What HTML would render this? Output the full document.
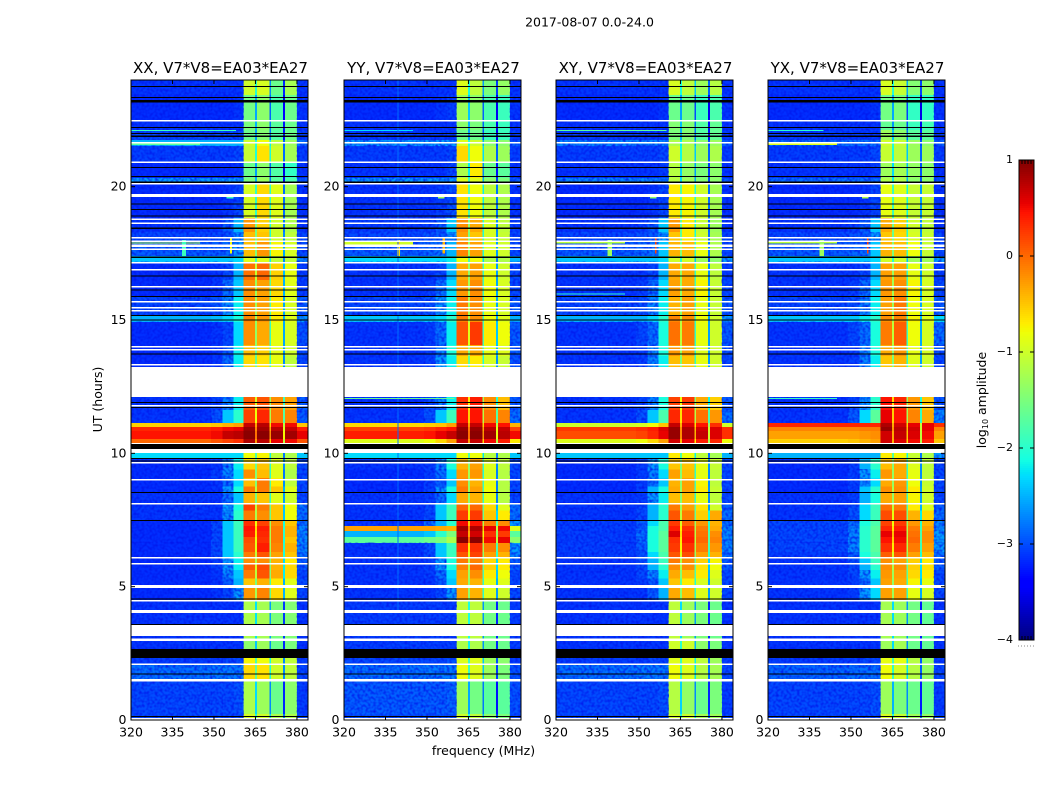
<!DOCTYPE html>
<html lang="en">
<head>
<meta charset="utf-8">
<title>2017-08-07 spectrograms</title>
<style>
html,body{margin:0;padding:0;background:#fff;}
body{width:1050px;height:800px;overflow:hidden;}
svg{display:block;}
text{font-family:"DejaVu Sans","Liberation Sans",sans-serif;fill:#000;}
</style>
</head>
<body>
<svg id="chart" xmlns="http://www.w3.org/2000/svg" width="1050" height="800" viewBox="0 0 1050 800">
  <defs>
    <filter id="grain" x="0" y="0" width="100%" height="100%" color-interpolation-filters="sRGB">
      <feTurbulence type="fractalNoise" baseFrequency="0.38" numOctaves="1" seed="7"/>
      <feColorMatrix type="matrix" values="0 0 0 0 0  0 0 0 0 0.08  0 0 0 0 0.92  2.0 0 0 0 -0.75"/>
    </filter>
  </defs>
  <rect x="0" y="0" width="1050" height="800" fill="#fff"/>
  <text x="589.5" y="26.5" font-size="12.5" text-anchor="middle">2017-08-07 0.0-24.0</text>
  <text x="102" y="399.5" font-size="12.5" text-anchor="middle" transform="rotate(-90 102 399.5)">UT (hours)</text>
  <text x="483.5" y="755" font-size="12.5" text-anchor="middle">frequency (MHz)</text>
  <text x="986" y="400" font-size="12.5" text-anchor="middle" transform="rotate(-90 986 400)">log<tspan font-size="8" dy="2">10</tspan><tspan dy="-2"> amplitude</tspan></text>
  <g id="panels"></g>
  <g id="colorbar"></g>
</svg>
<script>
/* ---------- data ---------- */
const panelTitles = ['XX, V7*V8=EA03*EA27','YY, V7*V8=EA03*EA27','XY, V7*V8=EA03*EA27','YX, V7*V8=EA03*EA27'];
const panelKeys = ['xx','yy','xy','yx'];
const freqTicks = [320,335,350,365,380];
const hourTicks = [0,5,10,15,20];
const colorbarTicks = [1,0,-1,-2,-3,-4];
const colorbarTickLabels = ['1','0','\u22121','\u22122','\u22123','\u22124'];

/* row boundaries in UT hours, top to bottom */
const rowEdges = [24,23.44,22.5,22.13,21.75,21.53,20.93,20.33,20.1,18.83,18.3,17.93,17.4,17.18,16.5,15.9,15.15,14.93,14.06,13.65,13.24,12.11,11.63,11.14,10.99,10.84,10.54,10.39,10.01,9.82,9.4,9.07,8.75,8.55,8.14,7.85,7.5,7.28,7.09,6.86,6.64,6.3,6.11,5.85,5.62,5.3,5.03,4.5,3.07,2.6,2.06,1.5,0.22,0];

/* frequency columns in MHz */
const bandFreqs = [[320,349],[349,353],[353,357],[357,360.7],[360.7,365],[365.6,370],[370.7,375],[375.7,380],[380,384]];
const gapFreqs = [[364.9,365.6],[370,370.7],[375,375.7]];
const gapDepths = [1.0,1.1,1.6];

/* log10 amplitude, one row per rowEdges interval: bg,s0,s1,s2,b1,b2,b3,b4,right */
const xxLevels = [
[-3.1,-3.1,-3.1,-3.1,-1.0,-0.95,-1.6,-1.25,-3.1],
[-3.15,-3.15,-3.15,-3.1,-1.55,-1.4,-1.8,-1.6,-3.1],
[-3.1,-3.1,-3.1,-3.1,-1.5,-1.4,-1.7,-1.6,-3.1],
[-3.0,-3.0,-3.0,-3.0,-1.6,-1.45,-1.75,-1.6,-3.05],
[-2.5,-2.5,-2.5,-2.5,-1.0,-0.8,-1.1,-1.3,-2.8],
[-3.05,-3.05,-3.05,-3.0,-1.05,-0.65,-1.0,-1.25,-3.05],
[-3.15,-3.15,-3.15,-3.1,-1.6,-1.4,-1.75,-1.95,-3.1],
[-2.6,-2.6,-2.6,-2.6,-1.5,-1.3,-1.7,-1.8,-2.9],
[-3.15,-3.15,-3.1,-3.0,-0.95,-0.6,-0.9,-1.25,-3.1],
[-3.1,-3.1,-2.9,-2.5,-0.25,-0.55,-1.0,-1.2,-3.1],
[-3.0,-3.0,-2.95,-2.7,-0.45,-0.5,-1.0,-1.1,-3.0],
[-2.9,-2.9,-2.85,-2.6,-0.45,-0.25,-0.75,-0.95,-3.0],
[-2.4,-2.4,-2.4,-2.3,-0.9,-0.9,-1.1,-1.1,-2.6],
[-3.15,-3.1,-3.0,-2.5,-0.05,0,-0.55,-0.85,-3.05],
[-3.15,-3.1,-2.8,-2.4,-0.2,-0.3,-0.6,-0.9,-3.05],
[-3.0,-2.95,-2.65,-2.2,-0.2,-0.3,-0.7,-0.95,-2.9],
[-2.5,-2.45,-2.3,-2.1,-0.15,-0.25,-0.7,-0.9,-2.6],
[-3.15,-3.1,-3.0,-2.3,-0.2,-0.35,-0.85,-0.95,-2.95],
[-3.15,-3.1,-2.9,-2.2,-0.45,-0.55,-0.85,-1.0,-3.0],
[-3.15,-3.1,-2.8,-2.2,-0.6,-0.65,-0.85,-1.1,-3.0],
null,
[-3.1,-3.0,-2.7,-2.2,0.05,0.1,-0.2,-0.3,-2.9],
[-3.1,-2.95,-2.4,-2.0,0.2,0.35,-0.1,-0.15,-2.9],
[-0.55,-0.5,-0.4,-0.3,0.7,0.75,0.5,0.5,-0.5],
[0.35,0.4,0.5,0.55,0.9,0.85,0.75,0.7,0.4],
[0.45,0.5,0.7,0.75,0.95,0.95,0.9,0.85,0.55],
[0,0.1,0.2,0.3,0.8,0.75,0.55,0.5,0.1],
null,
[-2.3,-2.3,-2.3,-2.3,-0.8,-0.75,-1.1,-1.2,-2.4],
[-3.15,-3.1,-2.7,-2.2,-0.6,-0.5,-0.9,-1.1,-3.0],
[-3.15,-3.05,-2.7,-2.3,-0.2,-0.45,-0.9,-1.2,-3.0],
[-3.15,-3.1,-2.8,-2.3,-0.45,-0.1,-0.7,-1.1,-3.0],
[-3.15,-3.1,-2.6,-2.1,-0.1,-0.1,-0.5,-0.9,-3.0],
[-3.1,-3.1,-2.8,-2.4,-0.4,-0.5,-0.9,-1.0,-3.0],
[-3.1,-3.1,-2.6,-2.1,0.2,-0.1,-0.5,-0.8,-2.8],
[-3.1,-3.1,-2.6,-2.0,-0.1,-0.2,-0.5,-0.8,-2.8],
[-3.15,-3.0,-2.4,-1.9,0.3,0.2,-0.2,-0.5,-2.8],
[-3.15,-3.0,-2.4,-1.9,0.45,0.4,-0.1,-0.4,-2.7],
[-3.15,-3.0,-2.4,-1.9,0.4,0.35,-0.1,-0.4,-2.7],
[-3.15,-3.0,-2.4,-1.9,0.15,0.3,-0.1,-0.5,-2.7],
[-3.15,-3.0,-2.4,-1.9,0.1,0.4,-0.15,-0.4,-2.7],
[-3.15,-3.0,-2.4,-2.0,-0.1,0.1,-0.3,-0.5,-2.8],
[-3.15,-3.05,-2.6,-2.2,-0.2,-0.2,-0.4,-0.7,-2.9],
[-3.15,-3.05,-2.6,-2.2,0.05,0.15,-0.4,-0.6,-2.9],
[-3.15,-3.1,-2.7,-2.4,-0.1,0.1,-0.35,-0.6,-3.0],
[-3.15,-3.1,-2.9,-2.5,-0.5,-0.4,-0.7,-0.9,-3.0],
[-3.15,-3.1,-3.0,-2.6,-0.25,-0.15,-0.6,-0.9,-3.0],
[-3.1,-3.1,-3.1,-3.1,-1.2,-1.25,-1.5,-1.45,-3.1],
[-3.1,-3.1,-3.1,-3.1,-1.4,-1.3,-1.6,-1.5,-3.1],
[-3.05,-3.05,-3.0,-3.0,-0.75,-0.8,-1.0,-1.1,-3.05],
[-2.8,-2.75,-2.75,-2.75,-0.6,-0.65,-1.0,-1.1,-3.0],
[-3.0,-3.0,-3.0,-2.95,-1.2,-1.3,-1.6,-1.4,-3.05],
[-3.0,-3.0,-3.0,-3.0,-0.95,-1.0,-1.2,-1.2,-3.0]
];
const yyLevels = [
[-3.1,-3.1,-3.1,-3.1,-0.9,-1.1,-1.5,-1.35,-3.1],
[-3.15,-3.15,-3.1,-3.05,-1.3,-1.4,-1.8,-1.9,-3.1],
[-3.1,-3.1,-3.1,-3.1,-1.4,-1.5,-1.8,-1.9,-3.1],
[-3.05,-3.05,-3.05,-3.05,-1.6,-1.6,-1.9,-1.9,-3.05],
[-2.6,-2.6,-2.6,-2.6,-0.9,-1.0,-1.4,-1.4,-2.9],
[-3.05,-3.05,-3.05,-3.0,-0.6,-0.8,-1.2,-1.3,-3.05],
[-3.1,-3.1,-3.1,-3.0,-1.2,-0.7,-1.6,-1.7,-3.1],
[-2.6,-2.6,-2.6,-2.6,-0.9,-0.9,-1.4,-1.5,-2.9],
[-3.1,-3.1,-3.05,-2.95,-0.65,-0.8,-1.1,-1.2,-3.1],
[-3.05,-3.05,-2.9,-2.4,-0.2,-0.35,-0.95,-1.1,-3.05],
[-3.0,-2.95,-2.9,-2.6,-0.3,-0.5,-0.95,-1.05,-3.0],
[-2.9,-2.85,-2.8,-2.5,-0.15,-0.3,-0.9,-1.0,-3.0],
[-2.3,-2.3,-2.3,-2.2,-0.8,-0.8,-1.2,-1.2,-2.5],
[-3.1,-3.1,-3.0,-2.5,-0.35,-0.3,-0.85,-1.0,-3.0],
[-3.1,-3.05,-2.8,-2.3,-0.25,-0.2,-0.8,-0.95,-3.0],
[-3.0,-2.95,-2.6,-2.2,-0.1,-0.2,-0.85,-0.95,-2.9],
[-2.4,-2.4,-2.3,-2.0,-0.1,-0.2,-0.8,-0.9,-2.5],
[-3.1,-3.05,-2.8,-2.2,0.1,0.25,-0.7,-0.8,-2.9],
[-3.1,-3.05,-2.7,-2.1,-0.35,-0.35,-0.85,-0.9,-2.9],
[-3.1,-3.05,-2.6,-2.2,-0.6,-0.7,-0.95,-1.05,-2.95],
null,
[-3.1,-3.0,-2.7,-2.2,0.3,0.4,-0.2,-0.45,-2.9],
[-3.1,-2.95,-2.4,-1.9,0.45,0.45,-0.05,-0.15,-2.8],
[-0.6,-0.55,-0.5,-0.3,0.7,0.7,0.5,0.45,-0.4],
[0.2,0.25,0.35,0.45,0.9,0.9,0.75,0.7,0.2],
[0.4,0.45,0.55,0.7,0.95,0.95,0.85,0.75,0.5],
[-0.9,-0.8,-0.6,-0.3,0.7,0.7,0.5,0.4,-0.7],
null,
[-2.3,-2.3,-2.3,-2.3,-0.8,-0.8,-1.15,-1.2,-2.4],
[-3.1,-3.05,-2.7,-2.1,-0.4,-0.3,-0.9,-1.1,-3.0],
[-3.15,-3.05,-2.8,-2.3,-0.25,-0.25,-0.95,-1.15,-3.0],
[-3.15,-3.05,-2.9,-2.4,-0.2,-0.4,-0.85,-1.15,-3.0],
[-3.15,-3.05,-2.6,-2.1,-0.1,-0.3,-0.8,-1.15,-3.0],
[-3.1,-3.05,-2.8,-2.3,-0.35,-0.4,-0.85,-1.15,-3.0],
[-3.1,-3.0,-2.4,-1.9,0,0,-0.6,-0.9,-2.8],
[-3.1,-3.0,-2.4,-1.9,0.25,0.25,-0.5,-0.7,-2.8],
[-3.1,-2.8,-2.5,-2.0,0.5,0.45,-0.1,-0.2,-2.6],
[-0.3,-0.3,-0.35,-0.4,0.85,0.8,0.55,0.5,-0.9],
[-2.5,-2.4,-2.0,-1.5,0.7,0.65,0.3,0.25,-1.7],
[-1.7,-1.6,-1.5,-1.2,0.95,0.95,0.5,0.55,-1.4],
[-3.1,-3.0,-2.4,-1.9,0.3,0.3,-0.1,-0.2,-2.6],
[-3.1,-3.0,-2.4,-1.9,0.1,0.2,-0.3,-0.4,-2.7],
[-3.1,-3.05,-2.6,-2.1,-0.1,-0.15,-0.6,-0.7,-2.9],
[-3.1,-3.05,-2.6,-2.1,-0.15,0,-0.55,-0.7,-2.9],
[-3.1,-3.05,-2.8,-2.3,-0.3,-0.2,-0.7,-0.8,-3.0],
[-3.1,-3.1,-2.9,-2.4,-0.35,-0.4,-0.85,-0.9,-3.0],
[-3.1,-3.1,-3.0,-2.6,-0.3,-0.4,-0.9,-1.0,-3.0],
[-3.05,-3.05,-3.05,-3.05,-1.1,-1.1,-1.55,-1.6,-3.05],
[-3.05,-3.05,-3.05,-3.05,-1.2,-1.2,-1.55,-1.6,-3.05],
[-3.0,-3.0,-3.0,-2.95,-0.9,-0.9,-1.3,-1.4,-3.05],
[-2.8,-2.75,-2.75,-2.75,-0.8,-0.9,-1.3,-1.5,-2.95],
[-2.9,-2.9,-2.9,-2.85,-1.3,-1.55,-1.7,-1.7,-2.95],
[-2.95,-2.95,-2.95,-2.95,-1.0,-1.1,-1.4,-1.5,-3.0]
];
const xyLevels = [
[-3.1,-3.1,-3.1,-3.1,-0.95,-1.1,-1.3,-1.15,-3.1],
[-3.15,-3.15,-3.15,-3.1,-1.6,-1.6,-1.9,-1.8,-3.1],
[-3.1,-3.1,-3.1,-3.1,-1.45,-1.45,-1.75,-1.65,-3.1],
[-3.05,-3.05,-3.05,-3.05,-1.5,-1.45,-1.75,-1.65,-3.05],
[-2.7,-2.7,-2.7,-2.7,-1.2,-1.2,-1.4,-1.3,-2.9],
[-3.05,-3.05,-3.05,-3.0,-1.0,-1.15,-1.3,-1.2,-3.05],
[-3.1,-3.1,-3.1,-3.05,-1.15,-1.35,-1.5,-1.4,-3.1],
[-2.7,-2.7,-2.7,-2.7,-1.15,-1.3,-1.45,-1.4,-2.9],
[-3.15,-3.15,-3.1,-3.0,-0.7,-0.75,-1.0,-1.25,-3.1],
[-3.1,-3.05,-2.9,-2.4,-0.25,-0.7,-1.05,-1.3,-3.1],
[-3.0,-2.95,-2.9,-2.6,-0.5,-0.7,-1.0,-1.25,-3.0],
[-2.9,-2.85,-2.8,-2.4,-0.4,-0.45,-0.85,-1.2,-3.0],
[-2.4,-2.4,-2.4,-2.3,-1.0,-1.0,-1.3,-1.4,-2.6],
[-3.1,-3.1,-3.0,-2.5,-0.35,-0.35,-0.85,-1.1,-3.05],
[-3.1,-3.05,-2.8,-2.3,-0.3,-0.35,-0.75,-1.05,-3.0],
[-3.0,-2.95,-2.7,-2.2,-0.4,-0.3,-0.85,-1.05,-2.9],
[-2.5,-2.5,-2.3,-2.0,-0.15,-0.2,-0.8,-1.0,-2.6],
[-3.1,-3.0,-2.8,-2.1,-0.05,-0.1,-0.85,-1.0,-2.9],
[-3.1,-3.05,-2.7,-2.1,-0.25,-0.3,-0.9,-1.0,-2.95],
[-3.1,-3.05,-2.7,-2.2,-0.45,-0.5,-0.85,-1.0,-3.0],
null,
[-3.1,-3.0,-2.7,-2.1,0.2,0.25,-0.35,-0.55,-2.9],
[-3.1,-2.95,-2.4,-1.8,0.35,0.35,-0.05,-0.25,-2.8],
[-1.0,-0.95,-0.8,-0.5,0.7,0.6,0.45,0.3,-1.0],
[0.25,0.3,0.4,0.6,0.9,0.8,0.65,0.6,0.3],
[0.15,0.2,0.35,0.55,0.9,0.8,0.7,0.6,0.3],
[-0.9,-0.8,-0.6,-0.3,0.65,0.55,0.4,0.35,-0.8],
null,
[-2.4,-2.4,-2.4,-2.4,-0.7,-0.8,-1.1,-1.25,-2.5],
[-3.15,-3.05,-2.6,-2.1,-0.5,-0.5,-0.85,-1.05,-3.0],
[-3.15,-3.05,-2.7,-2.3,-0.3,-0.45,-0.85,-1.1,-3.0],
[-3.15,-3.05,-2.8,-2.4,-0.4,-0.3,-0.75,-1.1,-3.0],
[-3.15,-3.05,-2.5,-2.1,-0.35,-0.3,-0.7,-1.05,-3.0],
[-3.1,-3.05,-2.6,-2.2,-0.45,-0.45,-0.85,-1.1,-3.0],
[-3.1,-3.0,-2.5,-2.0,-0.1,-0.3,-0.65,-1.0,-2.9],
[-3.1,-3.0,-2.5,-2.0,0.1,-0.1,-0.55,-0.35,-2.8],
[-3.05,-2.9,-2.3,-1.8,0.25,0.05,-0.25,-0.4,-2.8],
[-3.05,-2.9,-2.1,-1.8,0.4,0.3,-0.1,-0.35,-2.7],
[-3.05,-2.8,-2.1,-1.7,0.6,0.4,-0.05,-0.2,-2.7],
[-3.05,-2.8,-2.1,-1.7,0.3,0.45,0,-0.15,-2.7],
[-3.05,-2.9,-2.1,-1.7,0.25,0.3,-0.1,-0.25,-2.7],
[-3.05,-2.95,-2.3,-1.8,0.1,0.15,-0.3,-0.4,-2.8],
[-3.1,-2.95,-2.5,-1.9,-0.1,-0.2,-0.55,-0.75,-2.9],
[-3.1,-3.0,-2.5,-2.0,-0.2,-0.2,-0.65,-0.8,-2.9],
[-3.1,-3.0,-2.7,-2.2,-0.35,-0.45,-0.7,-0.9,-3.0],
[-3.1,-3.05,-2.9,-2.4,-0.5,-0.7,-0.95,-1.0,-3.0],
[-3.1,-3.1,-2.9,-2.5,-0.35,-0.45,-0.9,-1.0,-3.0],
[-3.1,-3.1,-3.1,-3.1,-1.1,-1.3,-1.5,-1.6,-3.1],
[-3.1,-3.1,-3.1,-3.1,-1.0,-1.0,-1.4,-1.5,-3.1],
[-3.05,-3.05,-3.0,-3.0,-0.9,-0.9,-1.1,-1.3,-3.05],
[-2.8,-2.75,-2.75,-2.75,-0.8,-0.9,-1.15,-1.25,-3.0],
[-3.0,-3.0,-3.0,-2.95,-1.15,-1.35,-1.6,-1.5,-3.05],
[-3.0,-3.0,-3.0,-3.0,-1.0,-1.0,-1.25,-1.3,-3.0]
];
const yxLevels = [
[-3.1,-3.1,-3.1,-3.1,-0.95,-1.05,-1.45,-1.4,-3.1],
[-3.15,-3.15,-3.15,-3.1,-1.55,-1.5,-1.95,-1.95,-3.1],
[-3.1,-3.1,-3.1,-3.1,-1.65,-1.6,-1.9,-1.85,-3.1],
[-3.05,-3.05,-3.05,-3.05,-1.3,-1.4,-1.7,-1.7,-3.05],
[-2.8,-2.8,-2.8,-2.8,-1.0,-1.05,-1.3,-1.4,-2.9],
[-3.05,-3.05,-3.05,-3.0,-1.05,-1.1,-1.3,-1.3,-3.05],
[-3.1,-3.1,-3.1,-3.05,-1.3,-1.25,-1.35,-1.4,-3.1],
[-2.8,-2.8,-2.8,-2.8,-1.2,-1.2,-1.4,-1.4,-2.95],
[-3.15,-3.15,-3.1,-3.0,-0.85,-0.9,-1.05,-1.05,-3.1],
[-3.1,-3.05,-2.9,-2.4,-0.35,-0.55,-1.0,-1.1,-3.1],
[-3.0,-2.95,-2.9,-2.6,-0.5,-0.6,-0.95,-1.05,-3.0],
[-2.9,-2.85,-2.8,-2.4,-0.4,-0.45,-0.8,-1.05,-3.0],
[-2.4,-2.4,-2.4,-2.3,-1.0,-1.0,-1.3,-1.3,-2.6],
[-3.1,-3.1,-3.0,-2.5,-0.3,-0.3,-0.85,-1.0,-3.05],
[-3.1,-3.05,-2.8,-2.3,-0.25,-0.2,-0.75,-0.95,-3.0],
[-3.0,-2.95,-2.7,-2.2,-0.3,-0.1,-0.8,-0.95,-2.9],
[-2.4,-2.4,-2.2,-2.0,-0.2,-0.15,-0.75,-0.9,-2.3],
[-3.1,-3.0,-2.8,-2.1,-0.1,0.05,-0.8,-0.95,-2.8],
[-3.1,-3.05,-2.7,-2.1,-0.35,-0.25,-0.85,-0.95,-2.95],
[-3.1,-3.05,-2.7,-2.2,-0.5,-0.4,-0.9,-1.0,-3.0],
null,
[-3.1,-3.0,-2.6,-2.0,0.45,0.35,-0.25,-0.5,-2.9],
[-3.1,-2.9,-2.3,-1.7,0.55,0.45,-0.15,-0.35,-2.7],
[0.35,0.35,0.35,0.35,0.8,0.65,0.55,0.55,0.3],
[-0.15,-0.15,-0.1,-0.1,0.9,0.75,0.65,0.55,-0.15],
[-0.3,-0.3,-0.25,-0.2,0.65,0.7,0.6,0.5,-0.3],
[-0.55,-0.5,-0.4,-0.3,0.65,0.6,0.5,0.4,-0.5],
null,
[-2.5,-2.5,-2.5,-2.5,-0.7,-0.75,-1.05,-1.2,-2.6],
[-3.15,-3.05,-2.5,-2.0,-0.45,-0.35,-0.9,-1.1,-3.0],
[-3.15,-3.05,-2.6,-2.2,-0.25,-0.35,-0.85,-1.1,-3.0],
[-3.15,-3.05,-2.7,-2.3,-0.35,-0.25,-0.8,-1.05,-3.0],
[-3.15,-3.05,-2.4,-2.0,-0.2,-0.2,-0.7,-1.0,-3.0],
[-3.1,-3.05,-2.5,-2.1,-0.35,-0.3,-0.75,-1.0,-3.0],
[-3.1,-2.95,-2.3,-1.9,-0.05,-0.1,-0.7,-0.9,-2.9],
[-3.1,-2.95,-2.3,-1.9,0.15,0.15,-0.4,-0.6,-2.8],
[-3.0,-2.8,-2.1,-1.8,0.2,0.25,-0.25,-0.4,-2.7],
[-3.0,-2.7,-2.0,-1.7,0.35,0.4,-0.1,-0.3,-2.6],
[-3.0,-2.7,-2.0,-1.7,0.55,0.55,-0.05,-0.2,-2.6],
[-3.0,-2.7,-2.0,-1.7,0.45,0.5,0,-0.2,-2.6],
[-3.0,-2.7,-2.0,-1.7,0.3,0.35,-0.1,-0.3,-2.6],
[-3.05,-2.85,-2.1,-1.8,0.05,0.1,-0.3,-0.45,-2.8],
[-3.1,-2.95,-2.4,-1.9,-0.2,-0.3,-0.55,-0.7,-2.9],
[-3.1,-3.0,-2.5,-2.0,-0.2,-0.2,-0.55,-0.65,-2.9],
[-3.1,-3.0,-2.6,-2.2,-0.25,-0.3,-0.6,-0.7,-3.0],
[-3.1,-3.05,-2.8,-2.4,-0.3,-0.35,-0.75,-0.85,-3.0],
[-3.1,-3.05,-2.6,-2.3,-0.3,-0.3,-0.85,-0.95,-3.0],
[-3.1,-3.1,-3.1,-3.1,-1.25,-1.3,-1.55,-1.65,-3.1],
[-3.1,-3.1,-3.1,-3.1,-1.3,-1.25,-1.6,-1.65,-3.1],
[-3.05,-3.05,-3.0,-3.0,-0.85,-0.85,-1.15,-1.35,-3.05],
[-2.85,-2.8,-2.8,-2.8,-0.8,-0.95,-1.15,-1.35,-3.0],
[-3.0,-3.0,-3.0,-2.95,-1.3,-1.5,-1.6,-1.65,-3.05],
[-3.0,-3.0,-3.0,-3.0,-0.95,-1.05,-1.3,-1.35,-3.0]
];

/* narrow interference features: fStart,fEnd,hourTop,hourBottom,level */
const xxRfi = [[320,345,21.62,21.57,-1.7],[320,358,22.13,22.09,-1.9],[320,345,17.9,17.86,-1.1],[338.4,339.8,18,17.4,-1.9],[355.8,356.5,18.05,17.5,-0.8],[354.5,357,19.7,19.55,-1.9]];
const yyRfi = [[320,345,22.13,22.09,-2.3],[320,345,17.92,17.84,-1.0],[339.2,340.2,18,17.4,-0.6],[355.7,356.5,18.05,17.5,-0.4],[354,356.4,19.7,19.55,-1.3],[339.4,339.7,24,4,-2.85],[320,360,12.08,12.03,-1.6]];
const xyRfi = [[320,360,22.13,22.09,-1.7],[320,345,17.92,17.87,-1.1],[338.7,340.2,18,17.4,-1.3],[355.8,356.3,18.05,17.5,0.2],[354,356.4,19.7,19.55,-1.4],[320,345,16.0,15.96,-2.0]];
const yxRfi = [[320,345,21.62,21.57,-0.9],[320,340,22.13,22.09,-2.0],[320,345,17.92,17.87,-1.1],[338.7,340.2,18,17.4,-1.3],[355.8,356.3,18.05,17.5,0.2],[354,356.4,19.7,19.55,-1.2],[320,345,12.08,12.03,-1.9]];

/* flagged time ranges in UT hours: top,bottom */
const whiteFlags = [[22.5,22.44],[21.68,21.62],[20.94,20.89],[20.14,20.08],[19.73,19.61],[18.8,18.75],[18.66,18.6],[18.11,18.06],[17.98,17.93],[17.83,17.74],[17.68,17.63],[17.175,17.12],[16.91,16.86],[16.28,16.22],[15.71,15.66],[15.49,15.43],[15.38,15.32],[14.03,13.97],[13.91,13.86],[13.35,13.29],[13.24,12.11],[11.81,11.76],[10.16,10.01],[9.68,9.62],[9.04,8.98],[8.14,8.08],[6.11,6.06],[5.89,5.83],[5.06,4.95],[4.5,4.44],[4.13,4.01],[3.58,3.15],[3.06,2.96],[2.12,2.06],[1.54,1.44],[0.075,0.02]];
const blackFlags = [[23.78,23.74],[23.36,23.33],[23.25,23.16],[22.24,22.2],[22.01,21.98],[21.92,21.86],[20.74,20.7],[20.4,20.36],[20.2,20.14],[19.37,19.33],[19.16,19.13],[18.92,18.88],[18.47,18.41],[17.38,17.33],[16.67,16.63],[16.14,16.11],[15.9,15.86],[15.19,15.15],[15.02,14.98],[13.74,13.71],[11.93,11.89],[11.74,11.7],[10.35,10.16],[9.83,9.79],[9.73,9.69],[8.55,8.51],[7.5,7.46],[4.56,4.52],[3.6,3.56],[2.66,2.33],[1.74,1.71],[0.15,0.12]];

/* ---------- layout and scales ---------- */
const panelLeft = [131,344,556,768];
const panelWidth = 177;
const plotTop = 80, plotBottom = 720;
const freqMin = 320, freqMax = 384, hourMin = 0, hourMax = 24;
const cbLeft = 1019, cbRight = 1034, cbTop = 160, cbBottom = 640, levelMin = -4, levelMax = 1;
const speckleCeiling = -2.5;
const SVGNS = 'http://www.w3.org/2000/svg';
const levelSets = {xx:xxLevels, yy:yyLevels, xy:xyLevels, yx:yxLevels};
const rfiSets = {xx:xxRfi, yy:yyRfi, xy:xyRfi, yx:yxRfi};

function xScale(panel, f){ return panelLeft[panel] + (f - freqMin) / (freqMax - freqMin) * panelWidth; }
function yScale(h){ return plotBottom - (h - hourMin) / (hourMax - hourMin) * (plotBottom - plotTop); }
function levelScale(v){ return cbBottom - (v - levelMin) / (levelMax - levelMin) * (cbBottom - cbTop); }

function ramp(pts, t){
  for (let i = 1; i < pts.length; i++) {
    if (t <= pts[i][0]) {
      const a = pts[i-1], b = pts[i];
      return a[1] + (b[1] - a[1]) * (t - a[0]) / (b[0] - a[0]);
    }
  }
  return pts[pts.length-1][1];
}
const jetR = [[0,0],[0.35,0],[0.66,1],[0.89,1],[1,0.5]];
const jetG = [[0,0],[0.125,0],[0.375,1],[0.64,1],[0.91,0],[1,0]];
const jetB = [[0,0.5],[0.11,1],[0.34,1],[0.65,0],[1,0]];
function jet(v){
  const t = Math.max(0, Math.min(1, (v - levelMin) / (levelMax - levelMin)));
  const c = [jetR, jetG, jetB].map(p => Math.round(ramp(p, t) * 255));
  return 'rgb(' + c.join(',') + ')';
}
function make(tag, attrs, parent){
  const el = document.createElementNS(SVGNS, tag);
  for (const k in attrs) el.setAttribute(k, attrs[k]);
  parent.appendChild(el);
  return el;
}
function cell(parent, panel, f0, f1, h0, h1, v){
  const x0 = xScale(panel, f0), x1 = xScale(panel, f1), y0 = yScale(h0), y1 = yScale(h1);
  const el = make('rect', {x:x0, y:y0, width:x1-x0, height:y1-y0, fill:jet(v)}, parent);
  
  
}
function flag(parent, panel, h0, h1, color){
  const y0 = yScale(h0), y1 = yScale(h1);
  const el = make('rect', {x:panelLeft[panel], y:y0, width:panelWidth, height:y1-y0, fill:color}, parent);
  
  
}
function speckle(parent, panel, f0, f1, h0, h1){
  const x0 = xScale(panel, f0), x1 = xScale(panel, f1), y0 = yScale(h0), y1 = yScale(h1);
  const el = make('rect', {x:x0, y:y0, width:x1-x0, height:y1-y0, filter:'url(#grain)'}, parent);
  
  
}

/* ---------- panels ---------- */
const root = document.getElementById('panels');
panelKeys.forEach(function(key, p){
  const g = make('g', {}, root);
  
  

  const map = make('g', {'shape-rendering':'crispEdges'}, g);
  
  

  const levels = levelSets[key];
  levels.forEach(function(row, r){
    if (!row) return;
    const hTop = rowEdges[r], hBot = rowEdges[r+1];
    row.forEach(function(v, b){
      cell(map, p, bandFreqs[b][0], bandFreqs[b][1], hTop, hBot, v);
    });
    gapFreqs.forEach(function(gf, k){
      const v = Math.min(row[4+k], row[5+k]) - gapDepths[k];
      cell(map, p, gf[0], gf[1], hTop, hBot, v);
    });
    /* decorative blue speckle on quiet cells only: a visual texture, carries no data */
    row.forEach(function(v, b){
      if (v < speckleCeiling) speckle(map, p, bandFreqs[b][0], bandFreqs[b][1], hTop, hBot);
    });
  });
  rfiSets[key].forEach(function(m){
    cell(map, p, m[0], m[1], m[2], m[3], m[4]);
  });

  whiteFlags.forEach(function(m){ flag(map, p, m[0], m[1], '#fff'); });
  blackFlags.forEach(function(m){ flag(map, p, m[0], m[1], '#000'); });

  const left = panelLeft[p], right = left + panelWidth;
  const frame = make('rect', {x:left, y:plotTop, width:panelWidth, height:plotBottom-plotTop, fill:'none', stroke:'#000', 'stroke-width':1}, g);
  
  

  const title = make('text', {x:left + panelWidth/2 + 1, y:73, 'font-size':15, 'text-anchor':'middle'}, g);
  title.textContent = panelTitles[p];
  
  

  freqTicks.forEach(function(f){
    const x = xScale(p, f);
    const tb = make('line', {x1:x, x2:x, y1:plotBottom, y2:plotBottom-4, stroke:'#000', 'stroke-width':1}, g);
    
    
    const tt = make('line', {x1:x, x2:x, y1:plotTop, y2:plotTop+4, stroke:'#000', 'stroke-width':1}, g);
    
    
    const lab = make('text', {x:x, y:736.5, 'font-size':12.5, 'text-anchor':'middle'}, g);
    lab.textContent = String(f);
    
    
  });
  hourTicks.forEach(function(h){
    const y = yScale(h);
    const tl = make('line', {x1:left, x2:left+4, y1:y, y2:y, stroke:'#000', 'stroke-width':1}, g);
    
    
    const tr = make('line', {x1:right, x2:right-4, y1:y, y2:y, stroke:'#000', 'stroke-width':1}, g);
    
    
    const lab = make('text', {x:left-4.5, y:y+4, 'font-size':12.5, 'text-anchor':'end'}, g);
    lab.textContent = String(h);
    
    
  });
});

/* ---------- colorbar ---------- */
const cb = document.getElementById('colorbar');
const cbRamp = make('g', {'shape-rendering':'crispEdges'}, cb);


for (let y = cbTop; y < cbBottom; y += 2) {
  const v = levelMax - (y + 1 - cbTop) / (cbBottom - cbTop) * (levelMax - levelMin);
  const s = make('rect', {x:cbLeft, y:y, width:cbRight-cbLeft, height:2, fill:jet(v)}, cbRamp);
  
  
}
const cbFrame = make('rect', {x:cbLeft, y:cbTop, width:cbRight-cbLeft, height:cbBottom-cbTop, fill:'none', stroke:'#000', 'stroke-width':1}, cb);


colorbarTicks.forEach(function(v, i){
  const y = levelScale(v);
  const a = make('line', {x1:cbLeft, x2:cbLeft+4, y1:y, y2:y, stroke:'#000', 'stroke-width':1}, cb);
  
  
  const b = make('line', {x1:cbRight, x2:cbRight-4, y1:y, y2:y, stroke:'#000', 'stroke-width':1}, cb);
  
  
  const lab = make('text', {x:cbLeft-6, y:y+3, 'font-size':11, 'text-anchor':'end'}, cb);
  lab.textContent = colorbarTickLabels[i];
  
  
});
for (let x = cbLeft + 3; x < cbRight - 1; x += 3) {
  const up = make('line', {x1:x, x2:x, y1:cbTop, y2:cbTop+4, stroke:'#000', 'stroke-width':1}, cb);
  
  
  const dn = make('line', {x1:x, x2:x, y1:cbBottom, y2:cbBottom-4, stroke:'#000', 'stroke-width':1}, cb);
  
  
}
const cbDots = make('line', {x1:cbLeft-1, x2:cbRight, y1:646, y2:646, stroke:'#888', 'stroke-width':1, 'stroke-dasharray':'1 2'}, cb);


</script>
</body>
</html>
